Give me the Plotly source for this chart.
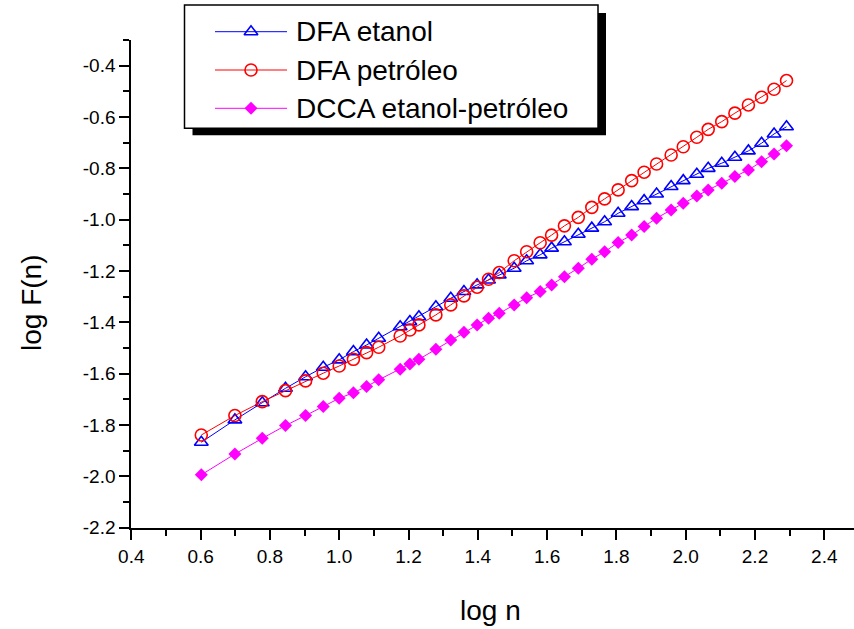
import plotly.graph_objects as go

W, H = 854, 629

# ---- data ----
log_n = [0.602, 0.699, 0.778, 0.845, 0.903, 0.954, 1.000, 1.041, 1.079, 1.114,
         1.176, 1.204, 1.230, 1.279, 1.322, 1.360, 1.398, 1.431, 1.462, 1.505,
         1.541, 1.580, 1.613, 1.650, 1.690, 1.729, 1.766, 1.805, 1.844, 1.880,
         1.916, 1.958, 1.993, 2.032, 2.065, 2.104, 2.142, 2.181, 2.219, 2.255,
         2.291]

dfa_etanol = [-1.867, -1.780, -1.713, -1.657, -1.612, -1.575, -1.546, -1.514, -1.488, -1.462,
              -1.417, -1.397, -1.378, -1.339, -1.306, -1.280, -1.254, -1.235, -1.215, -1.189,
              -1.160, -1.137, -1.111, -1.086, -1.057, -1.033, -1.008, -0.975, -0.949, -0.926,
              -0.900, -0.871, -0.848, -0.823, -0.800, -0.780, -0.757, -0.732, -0.702, -0.666,
              -0.638]

dfa_petroleo = [-1.839, -1.763, -1.709, -1.666, -1.628, -1.598, -1.570, -1.544, -1.518, -1.497,
                -1.453, -1.430, -1.410, -1.371, -1.332, -1.297, -1.263, -1.232, -1.206, -1.160,
                -1.125, -1.090, -1.060, -1.024, -0.991, -0.952, -0.919, -0.884, -0.848, -0.815,
                -0.783, -0.748, -0.716, -0.679, -0.648, -0.618, -0.585, -0.553, -0.523, -0.492,
                -0.458]

dcca = [-1.994, -1.913, -1.852, -1.802, -1.763, -1.728, -1.696, -1.674, -1.650, -1.624,
        -1.583, -1.562, -1.544, -1.505, -1.469, -1.439, -1.410, -1.384, -1.365, -1.332,
        -1.304, -1.280, -1.254, -1.222, -1.189, -1.154, -1.125, -1.089, -1.060, -1.027,
        -0.994, -0.962, -0.936, -0.908, -0.884, -0.858, -0.832, -0.806, -0.774, -0.744,
        -0.712]

series_names = ["DFA etanol", "DFA petróleo", "DCCA etanol-petróleo"]

x_tickvals = [0.4, 0.6, 0.8, 1.0, 1.2, 1.4, 1.6, 1.8, 2.0, 2.2, 2.4]
x_ticktext = ["0.4", "0.6", "0.8", "1.0", "1.2", "1.4", "1.6", "1.8", "2.0", "2.2", "2.4"]
y_tickvals = [-2.2, -2.0, -1.8, -1.6, -1.4, -1.2, -1.0, -0.8, -0.6, -0.4]
y_ticktext = ["-2.2", "-2.0", "-1.8", "-1.6", "-1.4", "-1.2", "-1.0", "-0.8", "-0.6", "-0.4"]

x_title = "log n"
y_title = "log F(n)"

# ---- styles ----
FONT = "Liberation Sans, Arial, sans-serif"
styles = [
    dict(color="#0000FF", symbol="triangle-up-open", size=12, lw=1.6),
    dict(color="#FF0000", symbol="circle-open", size=12, lw=1.6),
    dict(color="#FF00FF", symbol="diamond", size=10, lw=0),
]
series_vals = [dfa_etanol, dfa_petroleo, dcca]

# plot-area geometry in pixels
PL, PR, PT, PB = 131.3, 854.0, 40.0, 527.7
XMIN, YMIN, YMAX = 0.4, -2.2, -0.3
px_per_x = 346.5
XMAX = XMIN + (PR - PL) / px_per_x

fig = go.Figure()

for name, vals, st in zip(series_names, series_vals, styles):
    fig.add_trace(go.Scatter(
        x=log_n, y=vals, mode="lines+markers", name=name, showlegend=False,
        line=dict(color=st["color"], width=1),
        marker=dict(symbol=st["symbol"], size=st["size"], color=st["color"],
                    line=dict(color=st["color"], width=st["lw"])),
        xaxis="x", yaxis="y",
    ))

# ---- manual legend (pixel coordinates on an overlay axis) ----
LEG_L, LEG_T, LEG_R, LEG_B = 184.5, 5.0, 598.0, 128.3
SH = 8
row_y = [31.7, 70.0, 108.3]
line_x0, line_x1, mark_x, text_x = 215, 287, 251, 294

shapes = [
    dict(type="rect", xref="paper", yref="paper",
         x0=(LEG_L + SH) / W, x1=(LEG_R + SH) / W,
         y0=1 - (LEG_B + SH - 1) / H, y1=1 - (LEG_T + SH) / H,
         fillcolor="black", line=dict(width=0), layer="below"),
    dict(type="rect", xref="paper", yref="paper",
         x0=LEG_L / W, x1=LEG_R / W, y0=1 - LEG_B / H, y1=1 - LEG_T / H,
         fillcolor="white", line=dict(color="black", width=1.5), layer="below"),
]

annotations = []
for name, st, ry in zip(series_names, styles, row_y):
    fig.add_trace(go.Scatter(
        x=[line_x0, mark_x, line_x1], y=[ry, ry, ry], mode="lines",
        line=dict(color=st["color"], width=1), showlegend=False,
        hoverinfo="skip", xaxis="x2", yaxis="y2"))
    fig.add_trace(go.Scatter(
        x=[mark_x], y=[ry], mode="markers", showlegend=False, hoverinfo="skip",
        marker=dict(symbol=st["symbol"], size=st["size"], color=st["color"],
                    line=dict(color=st["color"], width=st["lw"])),
        xaxis="x2", yaxis="y2"))
    annotations.append(dict(x=text_x, y=ry, xref="x2", yref="y2", text=name,
                            showarrow=False, xanchor="left", yanchor="middle",
                            font=dict(family=FONT, size=28, color="black")))

annotations.append(dict(x=490 / W, y=1 - 610 / H, xref="paper", yref="paper",
                        text=x_title, showarrow=False, xanchor="center", yanchor="middle",
                        font=dict(family=FONT, size=28, color="black")))
annotations.append(dict(x=31 / W, y=1 - 303 / H, xref="paper", yref="paper",
                        text=y_title, showarrow=False, textangle=-90,
                        xanchor="center", yanchor="middle",
                        font=dict(family=FONT, size=28, color="black")))

axis_common = dict(showgrid=False, zeroline=False, showline=True, linecolor="black",
                   linewidth=2, ticks="outside", ticklen=10, tickwidth=2,
                   tickcolor="black", tickmode="array", automargin=False,
                   tickfont=dict(family=FONT, size=19, color="black"))

fig.update_layout(
    template="none",
    width=W, height=H,
    margin=dict(l=0, r=0, t=0, b=0, pad=0, autoexpand=False),
    paper_bgcolor="white", plot_bgcolor="rgba(0,0,0,0)",
    showlegend=False,
    xaxis=dict(domain=[PL / W, PR / W], range=[XMIN, XMAX], anchor="y",
               tickvals=x_tickvals, ticktext=x_ticktext,
               minor=dict(tickmode="linear", tick0=0.3, dtick=0.1, ticklen=6,
                          tickwidth=2, tickcolor="black", ticks="outside"),
               **axis_common),
    yaxis=dict(domain=[1 - PB / H, 1 - PT / H], range=[YMIN, YMAX], anchor="x",
               tickvals=y_tickvals, ticktext=y_ticktext,
               minor=dict(tickmode="linear", tick0=-2.3, dtick=0.1, ticklen=6,
                          tickwidth=2, tickcolor="black", ticks="outside"),
               **axis_common),
    xaxis2=dict(domain=[0, 1], range=[0, W], visible=False, anchor="y2",
                fixedrange=True, automargin=False),
    yaxis2=dict(domain=[0, 1], range=[H, 0], visible=False, anchor="x2",
                fixedrange=True, automargin=False),
    shapes=shapes,
    annotations=annotations,
)

fig.write_html("out.html")
